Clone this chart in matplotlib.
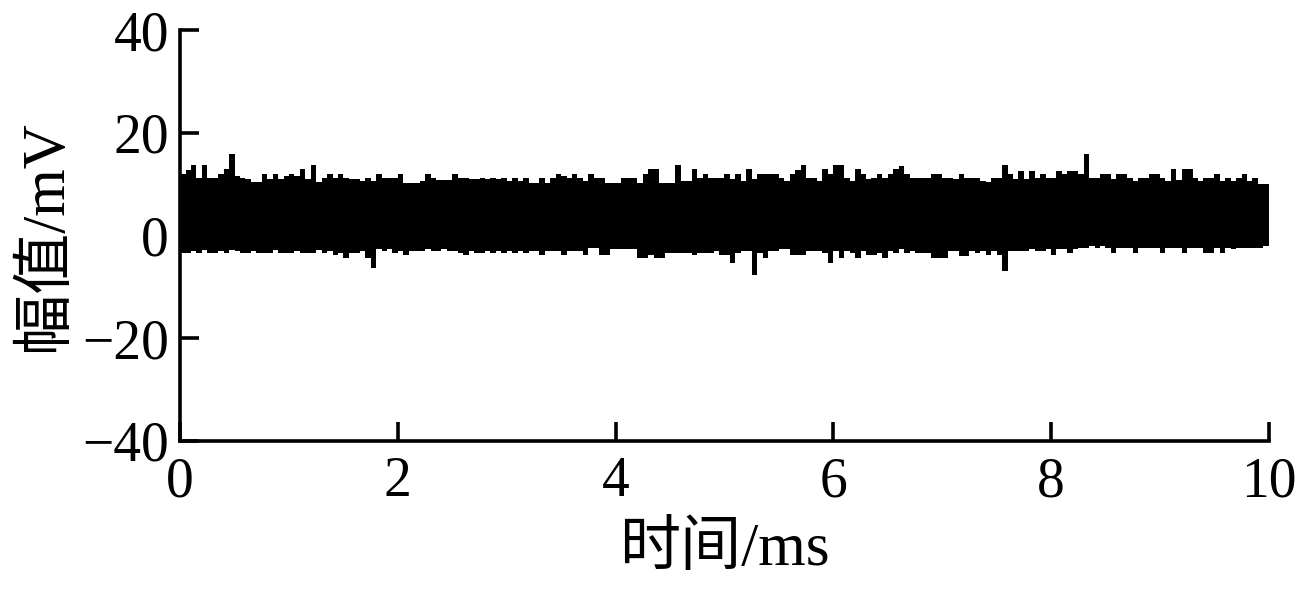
import numpy as np
import matplotlib
matplotlib.use("Agg")
import matplotlib.pyplot as plt

plt.rcParams["font.family"] = ["Liberation Serif", "Noto Sans CJK SC"]
plt.rcParams["axes.unicode_minus"] = True

# signal envelope, read per 0.05 ms slot (mV)
BIN_MS = 0.05
upper_mv = [
    12.0, 12.8, 13.8, 11.2, 13.8, 11.2, 11.2, 12.0, 13.0, 15.8,
    11.5, 11.2, 11.0, 10.5, 10.5, 12.0, 11.0, 12.0, 11.0, 11.5,
    12.0, 11.5, 13.0, 11.0, 13.8, 10.5, 11.2, 12.0, 11.2, 12.0,
    11.2, 11.0, 11.0, 10.6, 11.2, 10.6, 12.0, 11.2, 11.2, 11.2,
    12.0, 10.3, 10.3, 10.3, 10.6, 11.9, 11.2, 10.9, 10.9, 10.9,
    12.0, 11.2, 11.2, 11.0, 11.0, 11.2, 11.0, 11.2, 11.0, 11.2,
    10.6, 11.2, 10.6, 11.2, 10.3, 10.3, 11.2, 10.3, 11.2, 12.0,
    11.5, 11.2, 12.0, 11.2, 10.6, 12.0, 11.2, 11.2, 10.3, 10.3,
    10.3, 11.2, 11.2, 11.2, 10.3, 12.0, 13.0, 13.0, 10.3, 10.3,
    10.3, 13.8, 10.6, 10.6, 13.0, 11.2, 12.0, 11.2, 11.2, 11.2,
    12.0, 11.0, 12.0, 10.6, 13.0, 11.0, 12.0, 12.0, 12.0, 12.0,
    11.2, 10.6, 12.0, 12.8, 13.8, 11.2, 11.2, 10.6, 13.0, 12.0,
    13.8, 13.8, 11.2, 10.6, 13.0, 12.0, 11.0, 11.2, 12.0, 11.2,
    12.0, 13.0, 13.5, 12.0, 11.2, 11.2, 11.2, 11.2, 12.0, 12.0,
    11.2, 11.2, 11.0, 12.0, 11.2, 11.2, 11.2, 10.6, 10.5, 11.2,
    11.2, 13.7, 12.0, 11.0, 12.5, 11.0, 12.5, 11.2, 12.0, 11.2,
    11.2, 12.5, 12.0, 12.5, 12.5, 12.0, 15.8, 11.2, 11.2, 12.0,
    12.0, 11.0, 12.0, 12.0, 11.2, 10.6, 11.2, 11.2, 12.0, 12.0,
    11.2, 10.6, 13.0, 10.8, 13.0, 13.0, 11.2, 10.6, 11.2, 11.2,
    12.0, 10.6, 11.2, 10.6, 11.2, 12.0, 10.6, 11.2, 10.0, 10.0,
]
lower_mv = [
    -3.4, -3.4, -3.0, -3.4, -2.8, -3.4, -3.4, -3.0, -3.4, -2.8,
    -3.0, -3.4, -3.4, -3.0, -3.4, -3.4, -3.4, -2.8, -3.4, -3.4,
    -3.4, -3.0, -3.4, -3.4, -3.4, -2.8, -3.4, -3.0, -3.7, -3.4,
    -4.3, -3.4, -3.4, -3.0, -4.3, -6.3, -2.7, -3.0, -2.7, -3.4,
    -3.0, -3.7, -3.0, -3.0, -3.0, -2.7, -3.0, -3.0, -2.7, -3.0,
    -3.0, -3.4, -3.7, -3.0, -3.4, -3.4, -3.0, -3.4, -3.0, -3.4,
    -3.0, -3.4, -3.0, -3.4, -3.0, -3.0, -3.7, -3.0, -3.0, -3.0,
    -3.7, -3.0, -3.0, -3.0, -3.7, -2.4, -2.4, -3.7, -3.7, -2.7,
    -2.7, -2.7, -2.7, -2.7, -4.3, -4.3, -3.7, -4.3, -4.3, -3.4,
    -3.4, -3.4, -3.4, -3.4, -3.7, -3.4, -3.4, -3.4, -3.0, -3.7,
    -3.7, -5.3, -3.4, -3.0, -3.0, -7.6, -3.4, -4.3, -3.0, -3.0,
    -2.7, -2.7, -3.7, -3.7, -3.7, -3.0, -3.0, -3.0, -3.4, -5.3,
    -3.0, -4.3, -3.0, -3.4, -4.3, -3.0, -3.7, -3.7, -3.4, -4.3,
    -3.0, -3.4, -2.7, -3.4, -3.0, -3.4, -3.4, -3.4, -4.3, -4.3,
    -4.3, -3.0, -3.0, -4.0, -4.0, -3.0, -3.4, -3.0, -3.7, -3.0,
    -3.7, -6.9, -3.0, -3.0, -3.0, -3.0, -2.7, -3.0, -3.0, -2.7,
    -3.7, -2.7, -2.7, -3.4, -2.7, -2.4, -2.4, -2.1, -2.4, -2.1,
    -2.4, -3.4, -2.4, -2.4, -2.4, -3.4, -2.4, -2.4, -2.4, -2.4,
    -3.4, -2.4, -2.4, -2.4, -3.4, -2.4, -2.4, -2.4, -3.4, -3.4,
    -2.4, -3.4, -2.4, -2.7, -2.4, -2.4, -2.4, -2.4, -2.4, -2.1,
]

x_ticks = [0, 2, 4, 6, 8, 10]
y_ticks = [-40, -20, 0, 20, 40]

fig = plt.figure(figsize=(12.96, 5.91), dpi=100)
ax = fig.add_axes([0.139, 0.254, 0.840, 0.695])

edges = np.arange(len(upper_mv) + 1) * BIN_MS
ax.stairs(upper_mv, edges, baseline=lower_mv, fill=True, color="black", lw=0)

ax.set_xlim(0, 10)
ax.set_ylim(-40, 40)
ax.set_xticks(x_ticks)
ax.set_yticks(y_ticks)

for side in ("top", "right"):
    ax.spines[side].set_visible(False)
for side in ("left", "bottom"):
    ax.spines[side].set_linewidth(2.6)

ax.tick_params(direction="in", length=14, width=2.6, labelsize=40)
ax.tick_params(axis="x", pad=11)
ax.tick_params(axis="y", pad=8)
ax.set_xlabel("时间/ms", fontsize=44, labelpad=10)
ax.set_ylabel("幅值/mV", fontsize=44, labelpad=6)

fig.savefig("out.png", dpi=100)
